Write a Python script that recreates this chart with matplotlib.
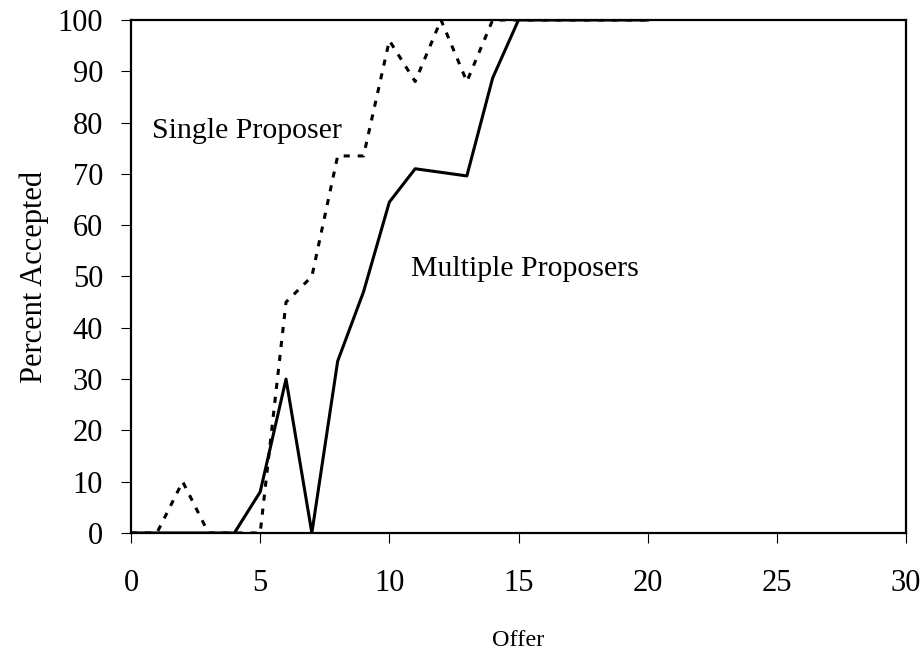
import matplotlib
matplotlib.use("Agg")
import matplotlib.pyplot as plt

# offers and percent of offers accepted
offer = [0, 1, 2, 3, 4, 5, 6, 7, 8, 9, 10, 11, 12, 13, 14, 15, 16, 17, 18, 19, 20]
single = [0, 0, 10, 0, 0, 0, 45, 50, 73.5, 73.5, 96, 88, 100, 88, 100, 100, 100, 100, 100, 100, 100]
multiple = [0, 0, 0, 0, 0, 8, 30, 0, 33.5, 47, 64.5, 71, 70.3, 69.6, 88.7, 100, 100, 100, 100, 100, 100]

x_ticks = [0, 5, 10, 15, 20, 25, 30]
y_ticks = [0, 10, 20, 30, 40, 50, 60, 70, 80, 90, 100]

plt.rcParams['font.family'] = ['Liberation Serif', 'DejaVu Serif']

fig = plt.figure(figsize=(9.24, 6.51), dpi=100)
ax = fig.add_axes([0.1418, 0.1813, 0.8387, 0.7880])

ax.plot(offer, single, color='black', lw=2.2, linestyle=(0, (2.0, 2.6)))
ax.plot(offer, multiple, color='black', lw=2.2)

ax.text(0.8, 77, 'Single Proposer', fontsize=21.5, ha='left', va='baseline')
ax.text(10.83, 50, 'Multiple Proposers', fontsize=21.5, ha='left', va='baseline')

ax.set_xlim(0, 30)
ax.set_ylim(0, 100)
ax.set_xticks(x_ticks)
ax.set_yticks(y_ticks)
ax.tick_params(axis='both', direction='out', length=7, width=0.8, labelsize=22)
ax.tick_params(axis='x', pad=19)
ax.tick_params(axis='y', pad=13)

for sp in ax.spines.values():
    sp.set_linewidth(1.6)

ax.set_xlabel('Offer', fontsize=17.5)
ax.xaxis.set_label_coords(0.5, -0.19)
ax.set_ylabel('Percent Accepted', fontsize=22)
ax.yaxis.set_label_coords(-0.106, 0.5)

fig.savefig('out.png', dpi=100)
